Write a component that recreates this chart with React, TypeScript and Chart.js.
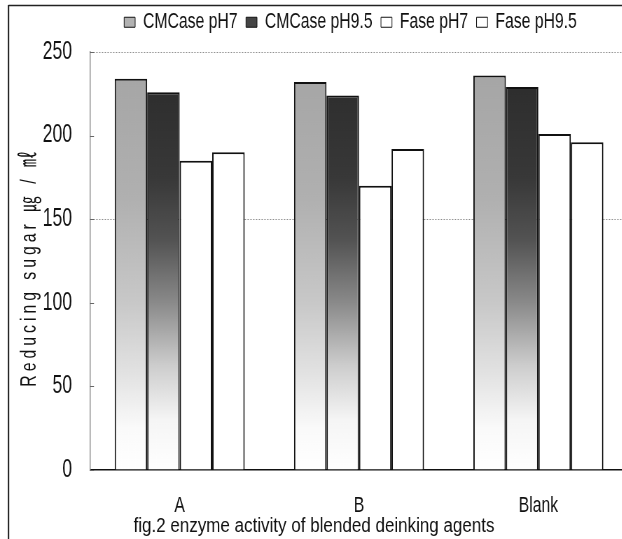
import React, { useEffect, useRef } from 'react';
import { Chart, registerables } from 'chart.js';

Chart.register(...registerables);

const categories = ['A', 'B', 'Blank'];
const seriesNames = ['CMCase pH7', 'CMCase pH9.5', 'Fase pH7', 'Fase pH9.5'];
const cmcasePH7 = [234, 232, 236];
const cmcasePH95 = [226, 224, 229];
const fasePH7 = [185, 170, 201];
const fasePH95 = [190, 192, 196];
const yTicks = [0, 50, 100, 150, 200, 250];
const yAxisTitle = 'Reducing sugar ㎍ / ㎖';
const caption = 'fig.2 enzyme activity of blended deinking agents';

// The canvas is drawn wider than shown and squeezed horizontally so that the
// text gets the tall, narrow look of the original.
const CSS_W = 640;
const CSS_H = 539;
const CANVAS_W = 914;
const SX = CSS_W / CANVAS_W;
const X = (d: number) => d / SX;

const FONT = '"Liberation Sans", Arial, "Noto Sans CJK KR", sans-serif';
const INK = '#111';
const LEGEND_FILLS = ['#b2b2b2', '#444444', '#ffffff', '#ffffff'];

type Stop = [number, string];
const STOPS_PH7: Stop[] = [[0, '#a4a4a4'], [0.35, '#b0b0b0'], [0.6, '#c8c8c8'], [0.78, '#e4e4e4'], [0.9, '#fafafa'], [1, '#ffffff']];
const STOPS_PH95: Stop[] = [[0, '#2a2a2a'], [0.3, '#383838'], [0.45, '#535353'], [0.6, '#8a8a8a'], [0.75, '#cdcdcd'], [0.88, '#f5f5f5'], [1, '#ffffff']];

function gradient(stops: Stop[]) {
  return (ctx: any) => {
    const area = ctx.chart.chartArea;
    if (!area) return stops[0][1];
    const g = ctx.chart.ctx.createLinearGradient(0, area.top, 0, area.bottom);
    stops.forEach(([o, c]) => g.addColorStop(o, c));
    return g;
  };
}

const LEGEND_PAD = 12;
const LEGEND_FONT = 22.5;
// legend box height = 2*pad + font + extra  -> chart area top at 54
const LEGEND_EXTRA = 54 - (2 * LEGEND_PAD + LEGEND_FONT);
const LEGEND_SHIFT_X = X(36.5);
const LEGEND_SHIFT_Y = -1;

const decorPlugin = {
  id: 'decor',
  beforeLayout(chart: any) {
    const lg = chart.legend;
    if (lg && !lg.__patched) {
      const orig = lg.fit.bind(lg);
      lg.fit = function () {
        orig();
        this.height += LEGEND_EXTRA;
      };
      lg.__patched = true;
    }
  },
  afterLayout(chart: any) {
    const lg = chart.legend;
    if (lg) {
      lg.left += LEGEND_SHIFT_X;
      lg.right += LEGEND_SHIFT_X;
      lg.top += LEGEND_SHIFT_Y;
      lg.bottom += LEGEND_SHIFT_Y;
    }
  },
  afterDraw(chart: any) {
    const { ctx, chartArea } = chart;
    const yScale = chart.scales.y;
    ctx.save();
    // outer frame (left and top edges)
    ctx.strokeStyle = '#222';
    ctx.lineWidth = X(1.5);
    ctx.beginPath();
    ctx.moveTo(X(8.5), 5);
    ctx.lineTo(X(8.5), 560);
    ctx.stroke();
    ctx.lineWidth = 1.5;
    ctx.beginPath();
    ctx.moveTo(X(8.5), 5.5);
    ctx.lineTo(CANVAS_W + 10, 5.5);
    ctx.stroke();
    // small inner tick marks on the y axis
    ctx.strokeStyle = '#666';
    ctx.lineWidth = 1;
    yScale.ticks.forEach((t: any) => {
      const y = Math.round(yScale.getPixelForValue(t.value)) + 0.5;
      ctx.beginPath();
      ctx.moveTo(chartArea.left, y);
      ctx.lineTo(chartArea.left + X(4), y);
      ctx.stroke();
    });
    ctx.restore();

    // y axis title (rotated, kept condensed like the other text)
    ctx.save();
    ctx.fillStyle = INK;
    ctx.font = '22.5px ' + FONT;
    ctx.textAlign = 'center';
    ctx.textBaseline = 'middle';
    ctx.translate(X(29.5), 267);
    ctx.rotate(-Math.PI / 2);
    ctx.scale(0.7, 1 / SX);
    try { (ctx as any).letterSpacing = (4 / 0.7).toFixed(2) + 'px'; } catch (e) {}
    ctx.fillText(yAxisTitle, 0, 0);
    ctx.restore();

    // caption under the axis (a little less condensed)
    ctx.save();
    ctx.fillStyle = INK;
    ctx.font = '20px ' + FONT;
    ctx.textAlign = 'center';
    ctx.textBaseline = 'alphabetic';
    ctx.translate(X(314), 532);
    ctx.scale(0.85 / SX, 1);
    ctx.fillText(caption, 0, 0);
    ctx.restore();
  },
};

export default function App() {
  const ref = useRef<HTMLCanvasElement | null>(null);

  useEffect(() => {
    if (!ref.current) return;
    const chart = new Chart(ref.current, {
      type: 'bar',
      data: {
        labels: categories,
        datasets: [
          { label: seriesNames[0], data: cmcasePH7, backgroundColor: gradient(STOPS_PH7) },
          { label: seriesNames[1], data: cmcasePH95, backgroundColor: gradient(STOPS_PH95) },
          { label: seriesNames[2], data: fasePH7, backgroundColor: '#ffffff' },
          { label: seriesNames[3], data: fasePH95, backgroundColor: '#ffffff' },
        ].map((d) => ({
          ...d,
          borderColor: INK,
          borderWidth: 2,
          borderSkipped: 'bottom' as const,
          categoryPercentage: 0.725,
          barPercentage: 1,
        })),
      },
      options: {
        responsive: false,
        animation: false,
        devicePixelRatio: 1,
        layout: { padding: { top: 0, left: 0, right: X(12), bottom: 0 } },
        plugins: {
          tooltip: { enabled: false },
          legend: {
            position: 'top',
            labels: {
              font: { family: FONT, size: LEGEND_FONT },
              color: INK,
              boxWidth: X(11),
              boxHeight: 10,
              padding: LEGEND_PAD,
              generateLabels: () =>
                seriesNames.map((name, i) => ({
                  text: name,
                  fillStyle: LEGEND_FILLS[i],
                  strokeStyle: INK,
                  lineWidth: 1,
                  hidden: false,
                  datasetIndex: i,
                  fontColor: INK,
                })),
            },
          },
        },
        scales: {
          x: {
            ticks: { font: { family: FONT, size: 22.5 }, color: INK, padding: 22 },
            grid: { display: false, drawTicks: false },
            border: { display: true, color: INK, width: 1.5 },
            afterFit: (s: any) => { s.height = 69; },
          },
          y: {
            min: 0,
            max: 250,
            afterBuildTicks: (s: any) => { s.ticks = yTicks.map((v) => ({ value: v })); },
            ticks: { font: { family: FONT, size: 25 }, color: INK, padding: X(18) },
            grid: {
              drawTicks: false,
              lineWidth: 1,
              color: (c: any) =>
                c.tick && (c.tick.value === 150 || c.tick.value === 250) ? '#8c8c8c' : 'rgba(0,0,0,0)',
            },
            border: { display: true, color: '#8c8c8c', width: X(1), dash: [2, 2] },
            afterFit: (s: any) => { s.width = X(90); },
          },
        },
      },
      plugins: [decorPlugin],
    } as any);
    return () => chart.destroy();
  }, []);

  return (
    <div style={{ position: 'fixed', left: 0, top: 0, width: 622, height: 539, overflow: 'hidden', background: '#fff' }}>
      <canvas ref={ref} width={CANVAS_W} height={CSS_H} style={{ display: 'block', width: CSS_W, height: CSS_H }} />
    </div>
  );
}
